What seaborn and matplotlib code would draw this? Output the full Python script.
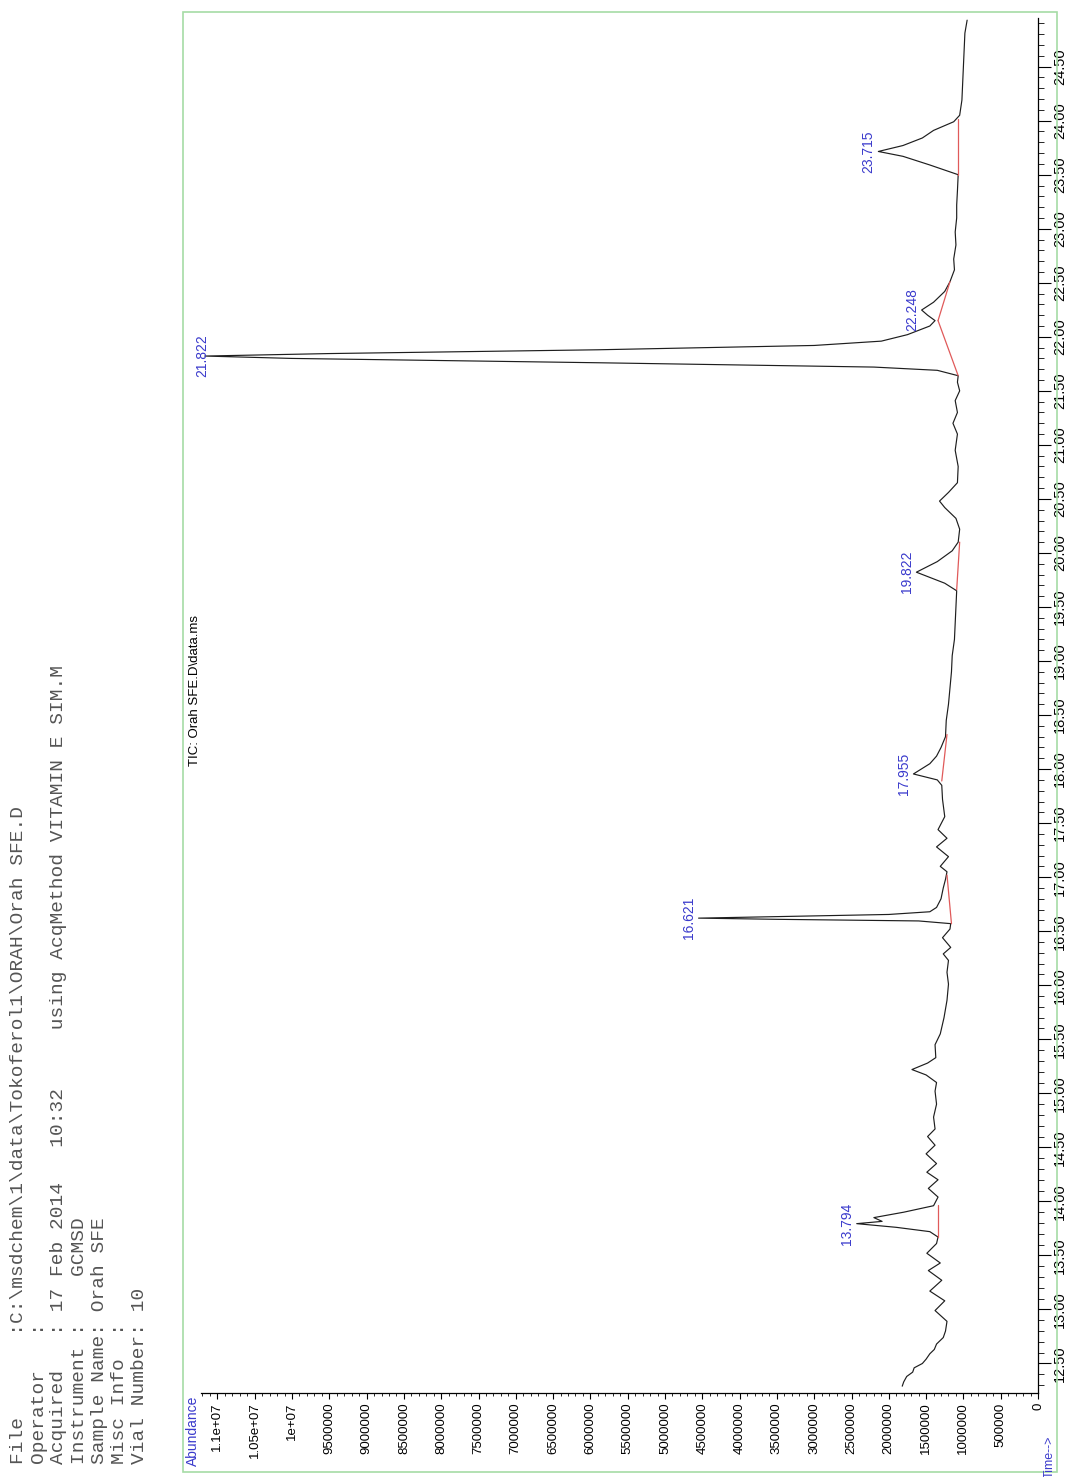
import numpy as np
import pandas as pd
import matplotlib
matplotlib.use("Agg")
import matplotlib.pyplot as plt
import matplotlib.ticker as mticker
from matplotlib.patches import Rectangle
import seaborn as sns

time_pts = [12.29, 12.33, 12.38, 12.42, 12.46, 12.50, 12.54, 12.59, 12.63, 12.68,
            12.74, 12.80, 12.89, 12.99, 13.08, 13.17, 13.27, 13.36, 13.43, 13.52,
            13.61, 13.67, 13.72, 13.76, 13.794, 13.815, 13.85, 13.90, 13.96, 14.04,
            14.12, 14.20, 14.27, 14.35, 14.44, 14.52, 14.60, 14.67, 14.78, 14.90,
            15.02, 15.10, 15.17, 15.22, 15.28, 15.33, 15.45, 15.55, 15.70, 15.86,
            16.01, 16.12, 16.23, 16.29, 16.35, 16.44, 16.52, 16.57, 16.595, 16.61,
            16.621, 16.635, 16.655, 16.68, 16.72, 16.80, 16.90, 16.98, 17.05, 17.10,
            17.19, 17.28, 17.36, 17.44, 17.56, 17.72, 17.85, 17.90, 17.955, 18.05,
            18.12, 18.20, 18.30, 18.45, 18.60, 18.75, 18.90, 19.05, 19.20, 19.35,
            19.50, 19.65, 19.72, 19.822, 19.92, 20.02, 20.10, 20.22, 20.32, 20.42,
            20.48, 20.56, 20.65, 20.80, 20.95, 21.10, 21.20, 21.30, 21.41, 21.50,
            21.58, 21.64, 21.69, 21.72, 21.76, 21.80, 21.822, 21.845, 21.88, 21.92,
            21.96, 22.02, 22.10, 22.15, 22.20, 22.248, 22.32, 22.42, 22.51, 22.62,
            22.72, 22.85, 22.97, 23.10, 23.22, 23.35, 23.50, 23.59, 23.67, 23.715,
            23.77, 23.84, 23.91, 23.99, 24.05, 24.19, 24.35, 24.50, 24.65, 24.81,
            24.93]
abund_pts = [1.82e6, 1.80e6, 1.76e6, 1.68e6, 1.66e6, 1.55e6, 1.50e6, 1.45e6, 1.39e6, 1.36e6,
             1.27e6, 1.24e6, 1.22e6, 1.38e6, 1.25e6, 1.45e6, 1.29e6, 1.47e6, 1.31e6, 1.49e6,
             1.36e6, 1.34e6, 1.45e6, 1.90e6, 2.43e6, 2.09e6, 2.20e6, 1.80e6, 1.40e6, 1.34e6,
             1.47e6, 1.34e6, 1.49e6, 1.36e6, 1.50e6, 1.38e6, 1.48e6, 1.38e6, 1.40e6, 1.36e6,
             1.38e6, 1.36e6, 1.50e6, 1.69e6, 1.48e6, 1.37e6, 1.38e6, 1.31e6, 1.26e6, 1.22e6,
             1.20e6, 1.22e6, 1.20e6, 1.27e6, 1.17e6, 1.28e6, 1.18e6, 1.17e6, 1.60e6, 3.50e6,
             4.55e6, 3.50e6, 2.00e6, 1.45e6, 1.36e6, 1.30e6, 1.27e6, 1.24e6, 1.22e6, 1.31e6,
             1.20e6, 1.36e6, 1.22e6, 1.34e6, 1.25e6, 1.28e6, 1.29e6, 1.35e6, 1.67e6, 1.45e6,
             1.36e6, 1.30e6, 1.24e6, 1.23e6, 1.20e6, 1.18e6, 1.16e6, 1.15e6, 1.12e6, 1.11e6,
             1.10e6, 1.09e6, 1.25e6, 1.63e6, 1.35e6, 1.15e6, 1.07e6, 1.05e6, 1.10e6, 1.25e6,
             1.32e6, 1.20e6, 1.08e6, 1.07e6, 1.11e6, 1.08e6, 1.14e6, 1.08e6, 1.11e6, 1.05e6,
             1.08e6, 1.07e6, 1.35e6, 2.20e6, 5.90e6, 10.0e6, 11.17e6, 9.50e6, 5.90e6, 3.00e6,
             2.10e6, 1.75e6, 1.45e6, 1.38e6, 1.48e6, 1.56e6, 1.40e6, 1.25e6, 1.18e6, 1.12e6,
             1.13e6, 1.10e6, 1.11e6, 1.09e6, 1.09e6, 1.08e6, 1.07e6, 1.45e6, 1.81e6, 2.14e6,
             1.81e6, 1.55e6, 1.40e6, 1.13e6, 1.05e6, 1.02e6, 1.01e6, 1.00e6, 0.99e6, 0.98e6,
             0.95e6]

# integrated peaks (labels) and their red baselines
peak_times = [13.794, 16.621, 17.955, 19.822, 21.822, 22.248, 23.715]
peak_abund = [2.43e6, 4.55e6, 1.67e6, 1.63e6, 11.17e6, 1.56e6, 2.14e6]
peak_labels = ["13.794", "16.621", "17.955", "19.822", "21.822", "22.248", "23.715"]
base_t0 = [13.67, 16.57, 17.89, 19.66, 21.64, 22.15, 23.50]
base_a0 = [1.34e6, 1.16e6, 1.29e6, 1.09e6, 1.07e6, 1.34e6, 1.07e6]
base_t1 = [13.97, 17.02, 18.32, 20.10, 22.15, 22.51, 24.02]
base_a1 = [1.34e6, 1.22e6, 1.22e6, 1.05e6, 1.34e6, 1.18e6, 1.07e6]

header_lines = [
    "File       :C:\\msdchem\\1\\data\\Tokoferol1\\ORAH\\Orah SFE.D",
    "Operator   :",
    "Acquired   : 17 Feb 2014   10:32     using AcqMethod VITAMIN E SIM.M",
    "Instrument :    GCMSD",
    "Sample Name: Orah SFE",
    "Misc Info  :",
    "Vial Number: 10",
]

sns.set_style("white")
plt.rcParams['font.family'] = ['Liberation Sans', 'DejaVu Sans']

W, H = 1067, 1477
fig = plt.figure(figsize=(W / 100, H / 100), dpi=100)

def fx(px):
    return px / W

def fy(py):
    return 1 - py / H

# light green outer frame
fig.patches.append(Rectangle((fx(183), fy(1472)), fx(1057) - fx(183), fy(12) - fy(1472),
                             transform=fig.transFigure, fill=False, ec='#a6dca6', lw=1.2))

ax = fig.add_axes([fx(201), fy(1393), fx(1038) - fx(201), fy(18) - fy(1393)])

df = pd.DataFrame({"time": time_pts, "abundance": abund_pts})
sns.lineplot(data=df, x="abundance", y="time", sort=False, estimator=None,
             color='#1e1e1e', lw=0.85, ax=ax)

for t0, a0, t1, a1 in zip(base_t0, base_a0, base_t1, base_a1):
    ax.plot([a0, a1], [t0, t1], color='#e05a5a', lw=0.9)

for t, a, lab in zip(peak_times, peak_abund, peak_labels):
    if a > 1e7:
        ax.annotate(lab, (a, t), xytext=(-2, 0), textcoords='offset points', rotation=90,
                    ha='center', va='center', color='#3a3acc', fontsize=10)
    else:
        ax.annotate(lab, (a, t), xytext=(-2, 0), textcoords='offset points', rotation=90,
                    ha='right', va='center', color='#3a3acc', fontsize=10)

ax.set_xlim(11.22e6, 0)
ax.set_ylim(12.227, 24.95)

ax.spines['top'].set_visible(False)
ax.spines['left'].set_visible(False)
ax.spines['right'].set_color('black')
ax.spines['bottom'].set_color('black')
ax.spines['right'].set_linewidth(0.9)
ax.spines['bottom'].set_linewidth(0.9)

ax.yaxis.tick_right()
ax.yaxis.set_major_locator(mticker.MultipleLocator(0.5))
ax.yaxis.set_minor_locator(mticker.MultipleLocator(0.1))
ax.yaxis.set_major_formatter(mticker.FormatStrFormatter('%.2f'))
ax.tick_params(axis='y', which='major', right=True, left=False, length=9, width=0.8,
               direction='out', labelsize=10.5, pad=2, labelrotation=90, colors='black')
ax.tick_params(axis='y', which='minor', right=True, left=False, length=4.5, width=0.7,
               direction='out')
for lab in ax.get_yticklabels():
    lab.set_va('center')

ax.xaxis.set_major_locator(mticker.MultipleLocator(500000))
ax.xaxis.set_minor_locator(mticker.MultipleLocator(100000))
ax.xaxis.set_major_formatter(mticker.FuncFormatter(
    lambda v, p: ('%g' % v) if v >= 1e7 - 1 else '%d' % round(v)))
ax.tick_params(axis='x', which='major', bottom=True, length=4, width=0.8, direction='out',
               labelsize=9.5, pad=3, labelrotation=90, colors='black')
ax.tick_params(axis='x', which='minor', bottom=True, length=2.5, width=0.7, direction='out')
ax.set_xlabel("")
ax.set_ylabel("")

# titles / axis names
fig.text(fx(195), fy(615), "TIC: Orah SFE.D\\data.ms", rotation=90, ha='center', va='top',
         fontsize=9.5, color='black')
fig.text(fx(193), fy(1396), "Abundance", rotation=90, ha='center', va='top',
         fontsize=10, color='#3a3acc')
fig.text(fx(1050), fy(1436), "Time-->", rotation=90, ha='center', va='top',
         fontsize=9, color='#3a3acc')

# instrument header, monospaced, rotated
for i, line in enumerate(header_lines):
    fig.text(fx(19 + i * 20), fy(1464), line, rotation=90, ha='center', va='bottom',
             fontsize=14, color='#555555', family=['Liberation Mono', 'DejaVu Sans Mono'])

fig.savefig("out.png", dpi=100)
